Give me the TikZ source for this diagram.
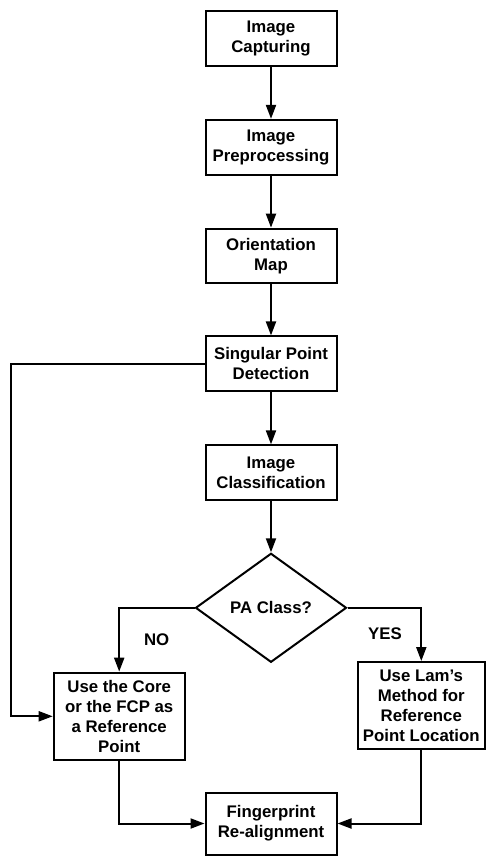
\documentclass[tikz,border=0pt]{standalone}
\usepackage{fontspec}
\setmainfont{Liberation Sans}
\usetikzlibrary{shapes.geometric,arrows.meta}
\begin{document}
\begin{tikzpicture}[x=1pt,y=-1pt,
  every node/.style={font=\fontsize{16.8}{20}\selectfont\bfseries, align=center, inner sep=0pt},
  stepbox/.style={draw, line width=2pt, rectangle, minimum width=131pt, minimum height=54.7pt},
  decision/.style={draw, line width=2pt, diamond, aspect=1.385, minimum width=151pt, minimum height=109pt},
  arr/.style={line width=2pt, -{Triangle[length=14pt,width=10pt]}},
  conn/.style={line width=2pt}]
\useasboundingbox (0,0) rectangle (486,856);
\node[stepbox] (cap) at (271,38.7) {Image\\Capturing};
\node[stepbox] (pre) at (271,147.2) {Image\\Preprocessing};
\node[stepbox] (ori) at (271,256) {Orientation\\Map};
\node[stepbox] (sing) at (271,363.8) {Singular Point\\Detection};
\node[stepbox] (cls) at (271,472.7) {Image\\Classification};
\node[decision] (dia) at (271,607.8) {PA Class?};
\node[stepbox, minimum height=87.3pt] (core) at (119.2,716.3) {Use the Core\\or the FCP as\\a Reference\\Point};
\node[stepbox, minimum width=127pt, minimum height=87.3pt] (lam) at (421.3,705.7) {Use Lam's\\Method for\\Reference\\Point Location};
\node[stepbox, minimum height=62pt] (fin) at (271,823.5) {Fingerprint\\Re-alignment};
\node (no) at (156.7,639.5) {NO};
\node (yes) at (385,634) {YES};
\coordinate (lp) at (11,363.8);
\draw[arr] (cap) -- (pre);
\draw[arr] (pre) -- (ori);
\draw[arr] (ori) -- (sing);
\draw[arr] (sing) -- (cls);
\draw[arr] (cls) -- (dia);
\draw[arr] (sing.west) -- (lp) |- (core.west);
\draw[arr] (dia.west) -| (core.north);
\draw[arr] (dia.east) -| (lam.north);
\draw[arr] (core.south) |- (fin.west);
\draw[arr] (lam.south) |- (fin.east);
\end{tikzpicture}
\end{document}
